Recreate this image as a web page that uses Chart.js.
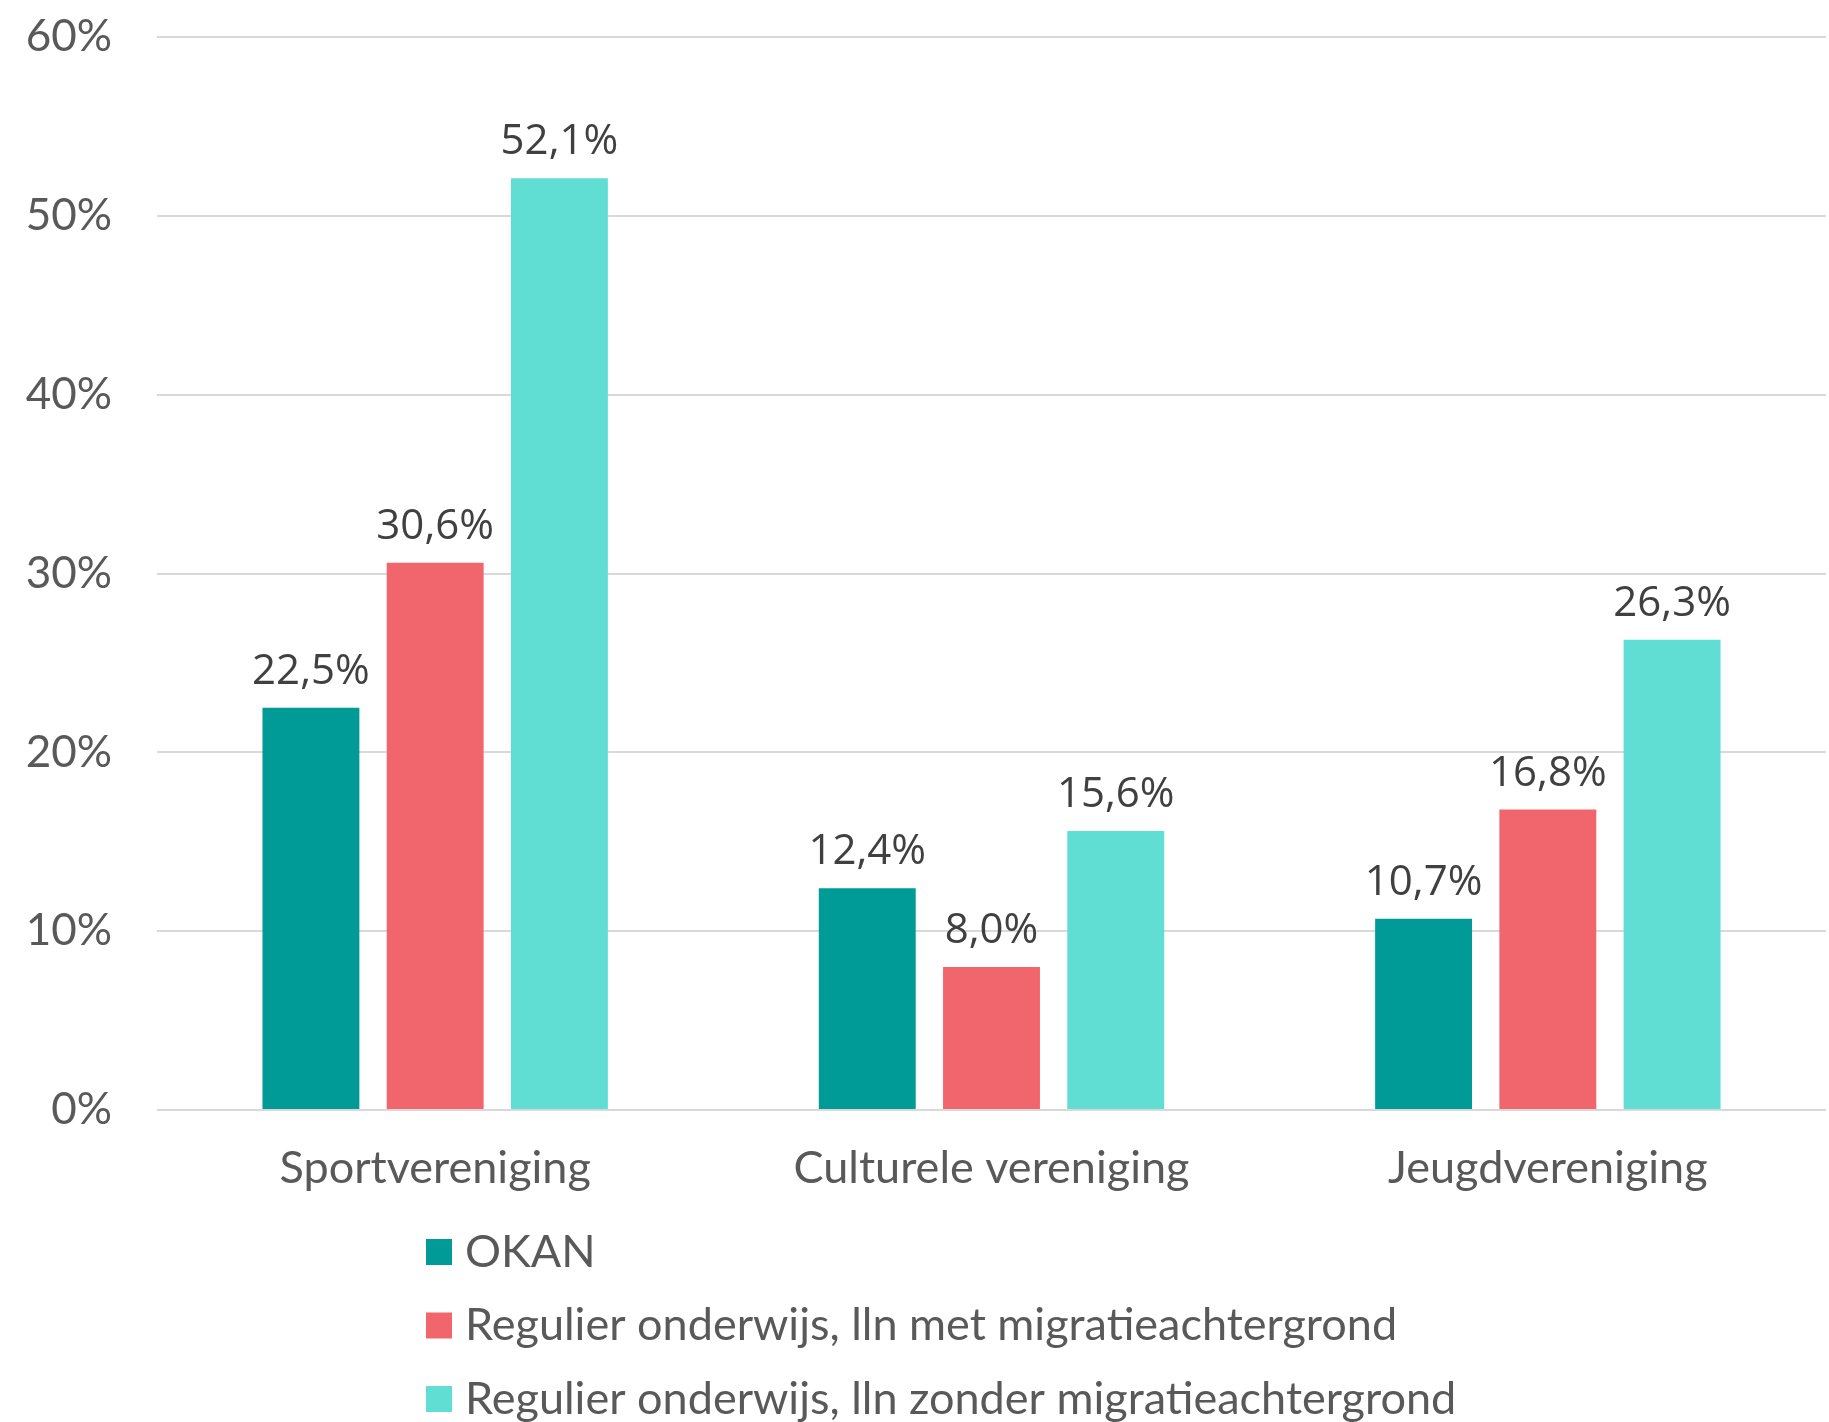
<!DOCTYPE html>
<html>
<head>
<meta charset="utf-8">
<script src="https://cdn.jsdelivr.net/npm/chart.js@4.4.0/dist/chart.umd.min.js"></script>
<style>
  html, body { margin: 0; padding: 0; background: #fff; }
</style>
</head>
<body>
<canvas id="barChart" width="1829" height="1422"></canvas>
<script>
var categories = ["Sportvereniging", "Culturele vereniging", "Jeugdvereniging"];
var seriesNames = ["OKAN", "Regulier onderwijs, lln met migratieachtergrond", "Regulier onderwijs, lln zonder migratieachtergrond"];
var okan = [22.5, 12.4, 10.7];
var metMigratie = [30.6, 8.0, 16.8];
var zonderMigratie = [52.1, 15.6, 26.3];
var yMin = 0, yMax = 60, yStep = 10;

var colors = ["#009A97", "#F1666C", "#60DED4"];
var axisFont = "Lato";
var labelFont = "'Open Sans'";

// value labels above the bars
var valueLabels = {
    id: 'valueLabels',
    afterDatasetsDraw: function (chart) {
        var ctx = chart.ctx;
        ctx.save();
        ctx.font = "42px " + labelFont;
        ctx.fillStyle = "#404040";
        ctx.textAlign = "center";
        ctx.textBaseline = "alphabetic";
        chart.data.datasets.forEach(function (ds, i) {
            chart.getDatasetMeta(i).data.forEach(function (bar, j) {
                var txt = ds.data[j].toFixed(1).replace('.', ',') + '%';
                ctx.fillText(txt, bar.x, bar.y - 24);
            });
        });
        ctx.restore();
    }
};

// vertical legend under the x axis, left-aligned
var stackedLegend = {
    id: 'stackedLegend',
    afterDraw: function (chart) {
        var ctx = chart.ctx;
        var area = chart.chartArea;
        ctx.save();
        ctx.font = "45px " + axisFont;
        ctx.textBaseline = "middle";
        ctx.textAlign = "left";
        chart.data.datasets.forEach(function (ds, i) {
            var cy = area.bottom + 142 + i * 73.5;
            ctx.fillStyle = ds.backgroundColor;
            ctx.fillRect(426, cy - 13, 26, 26);
            ctx.fillStyle = "#595959";
            ctx.fillText(ds.label, 465, cy);
        });
        ctx.restore();
    }
};

var barData = {
    labels: categories,
    datasets: [
        { label: seriesNames[0], backgroundColor: colors[0], data: okan },
        { label: seriesNames[1], backgroundColor: colors[1], data: metMigratie },
        { label: seriesNames[2], backgroundColor: colors[2], data: zonderMigratie }
    ]
};

var barOptions = {
    responsive: false,
    animation: false,
    categoryPercentage: 0.67,
    barPercentage: 0.78,
    layout: { padding: { top: 37, right: 3, left: 0, bottom: 0 } },
    plugins: {
        legend: { display: false },
        tooltip: { enabled: false }
    },
    scales: {
        x: {
            grid: { display: false, drawTicks: false },
            border: { display: false },
            ticks: {
                padding: 31,
                color: "#595959",
                font: { family: axisFont, size: 45 }
            },
            afterFit: function (scale) { scale.height = 312; }
        },
        y: {
            min: yMin,
            max: yMax,
            grid: { color: "#d9d9d9", lineWidth: 2, drawTicks: false },
            border: { display: false },
            ticks: {
                stepSize: yStep,
                padding: 45,
                color: "#595959",
                font: { family: axisFont, size: 44 },
                callback: function (v) { return v + '%'; }
            },
            afterFit: function (scale) {
                scale.width = 157;
                scale.paddingTop = 0;
                scale.paddingBottom = 0;
            }
        }
    }
};

var ctx2 = document.getElementById("barChart").getContext("2d");
new Chart(ctx2, { type: 'bar', data: barData, options: barOptions, plugins: [valueLabels, stackedLegend] });
</script>
</body>
</html>
